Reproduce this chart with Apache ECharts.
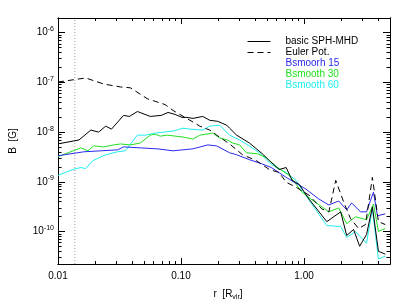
<!DOCTYPE html>
<html>
<head>
<meta charset="utf-8">
<script src="https://cdn.jsdelivr.net/npm/echarts@6/dist/echarts.min.js"></script>
<style>html,body{margin:0;padding:0;background:#fff;}#c{width:407px;height:306px;}</style>
</head>
<body>
<div id="c"></div>
<script>
// ---- data (r in R_vir, B in Gauss) ----
var rBasic = [0.0100,0.0148,0.0185,0.0214,0.0244,0.0272,0.0341,0.0381,0.0442,0.0562,0.0690,0.0785,0.0895,0.1019,0.1117,0.1250,0.1503,0.1714,0.1987,0.2350,0.2483,0.2831,0.3597,0.4582,0.5224,0.6281,0.7161,0.7998,0.9120,1.097,1.532,1.987,2.223,2.529,2.831,3.222,3.597,4.027,4.582];
var bBasic = [5.8e-9,6.95e-9,1.10e-8,1.00e-8,1.32e-8,1.15e-8,2.17e-8,2.07e-8,2.6e-8,2.07e-8,2.17e-8,2.49e-8,2.27e-8,1.98e-8,1.98e-8,1.89e-8,2.07e-8,1.73e-8,1.65e-8,1.38e-8,1.20e-8,8.7e-9,6.05e-9,3.67e-9,2.67e-9,1.77e-9,1.94e-9,1.07e-9,8.9e-10,4.5e-10,1.58e-10,2.49e-10,8.3e-11,1.10e-10,5.05e-11,8.7e-11,3.13e-10,4.0e-11,3.5e-11];

var rEuler = [0.0100,0.0168,0.0235,0.0322,0.0388,0.0532,0.0743,0.0861,0.1183,0.1422,0.1714,0.1950,0.2483,0.3162,0.4102,0.5224,0.6281,0.7161,0.861,1.097,1.396,1.592,1.811,2.10,2.39,2.777,3.162,3.597,4.027,4.582];
var bEuler = [1.02e-7,1.23e-7,9.3e-8,8.1e-8,7.8e-8,4.7e-8,3.58e-8,2.73e-8,1.73e-8,1.32e-8,1.10e-8,8.7e-9,5.78e-9,3.51e-9,2.67e-9,1.77e-9,1.54e-9,9.8e-10,7.8e-10,5.4e-10,2.85e-10,2.49e-10,1.07e-9,3.93e-10,1.81e-10,1.15e-10,1.38e-10,1.23e-9,1.58e-10,1.38e-10];

var rB15 = [0.0100,0.0162,0.0305,0.0341,0.0467,0.0640,0.0861,0.1250,0.1652,0.1950,0.2483,0.2831,0.3597,0.4498,0.5420,0.7161,1.038,1.321,1.592,1.914,2.223,2.438,2.884,3.222,3.670,3.953,4.582];
var bB15 = [3.35e-9,4.02e-9,4.40e-9,5.05e-9,4.82e-9,4.61e-9,4.21e-9,4.61e-9,5.53e-9,5.28e-9,3.84e-9,3.51e-9,2.79e-9,2.32e-9,1.94e-9,1.23e-9,7.1e-10,4.5e-10,3.42e-10,4.11e-10,2.73e-10,3.75e-10,2.49e-10,2.49e-10,6.2e-10,2.07e-10,2.27e-10];

var rB30 = [0.0100,0.0153,0.0175,0.0195,0.0235,0.0283,0.0322,0.0388,0.0467,0.0562,0.0617,0.0677,0.0771,0.1038,0.1250,0.1422,0.1811,0.2065,0.2393,0.2625,0.2992,0.3407,0.4178,0.4943,0.5943,0.7568,0.9638,1.138,1.592,1.914,2.223,2.624,3.222,3.670,4.027,4.582];
var bB30 = [3.20e-9,4.82e-9,4.21e-9,5.28e-9,5.05e-9,5.53e-9,5.78e-9,5.53e-9,6.05e-9,8.7e-9,9.1e-9,8.3e-9,8.7e-9,7.96e-9,7.26e-9,8.7e-9,9.55e-9,7.6e-9,6.95e-9,6.05e-9,5.53e-9,3.84e-9,3.67e-9,3.06e-9,2.03e-9,1.35e-9,6.2e-10,4.5e-10,2.49e-10,2.99e-10,1.44e-10,1.98e-10,1.73e-10,3.58e-10,1.00e-10,1.15e-10];

var rB60 = [0.0100,0.0132,0.0153,0.0168,0.0192,0.0244,0.0305,0.0353,0.0442,0.0513,0.0617,0.0861,0.1038,0.1183,0.1503,0.1714,0.2065,0.2483,0.2992,0.3597,0.4335,0.5224,0.5943,0.7161,0.861,1.097,1.532,1.987,2.223,2.624,3.222,3.597,4.027,4.582];
var bB60 = [1.35e-9,1.77e-9,1.94e-9,1.85e-9,2.67e-9,3.51e-9,4.02e-9,4.21e-9,8.7e-9,8.7e-9,9.55e-9,1.05e-8,1.20e-8,1.15e-8,1.10e-8,1.32e-8,1.38e-8,8.7e-9,6.95e-9,5.28e-9,3.84e-9,2.43e-9,1.94e-9,1.54e-9,1.07e-9,4.3e-10,1.32e-10,1.26e-10,7.6e-11,1.00e-10,5.8e-11,2.85e-10,2.79e-11,3.2e-11];

var seriesNames = ['basic SPH-MHD','Euler Pot.','Bsmoorh 15','Bsmooth 30','Bsmooth 60'];
var seriesColors = ['#000000','#000000','#2a2aee','#22e022','#20eeee'];
var rVirLine = 0.0137;

var xMajorTicks = [0.01, 0.1, 1];
var yMajorTicks = [1e-10, 1e-9, 1e-8, 1e-7, 1e-6];
var xRange = [0.01, 5];
var yRange = [2.22e-11, 1.98e-6];

function minors(decades) {
  var out = [];
  decades.forEach(function (d) { for (var m = 2; m <= 9; m++) out.push(+(m * d).toPrecision(3)); });
  return out;
}
var xMinorTicks = minors([0.01, 0.1, 1]);
var yMinorTicks = minors([1e-11, 1e-10, 1e-9, 1e-8, 1e-7, 1e-6]);

function zip(r, b) { return r.map(function (v, i) { return [v, b[i]]; }); }

var chart = echarts.init(document.getElementById('c'), null, {renderer: 'canvas'});
var font = 'Liberation Sans, Arial, sans-serif';

function xAx(pos, ticks, len, labels) {
  return {
    type: 'log', logBase: 10, min: xRange[0], max: xRange[1], position: pos,
    axisLine: {show: true, lineStyle: {color: '#000', width: 1}},
    axisTick: {show: true, inside: true, length: len, customValues: ticks, lineStyle: {color: '#000', width: 1}},
    axisLabel: labels ? {show: true, customValues: xMajorTicks, margin: 7, color: '#000', fontSize: 10, fontFamily: font,
      formatter: function (v) { return (+v).toFixed(2); }} : {show: false},
    splitLine: {show: false},
    name: labels ? '{a|r  [R}{s|vir}{a|]}' : '',
    nameLocation: 'middle', nameGap: 24,
    nameTextStyle: {padding: [0, 0, 0, 8], rich: {a: {fontSize: 10, fontFamily: font, color: '#000'}, s: {fontSize: 7, fontFamily: font, color: '#000', padding: [6, 0, 0, 0]}}}
  };
}
function yAx(pos, ticks, len, labels) {
  return {
    type: 'log', logBase: 10, min: yRange[0], max: yRange[1], position: pos,
    axisLine: {show: true, lineStyle: {color: '#000', width: 1}},
    axisTick: {show: true, inside: true, length: len, customValues: ticks, lineStyle: {color: '#000', width: 1}},
    axisLabel: labels ? {show: true, customValues: yMajorTicks, margin: 4, color: '#000', fontFamily: font,
      formatter: function (v) { return '{b|10}{s|' + Math.round(Math.log10(v)) + '}'; },
      rich: {b: {fontSize: 10, fontFamily: font, color: '#000'}, s: {fontSize: 7, fontFamily: font, color: '#000', padding: [0, 0, 7, 0]}}} : {show: false},
    splitLine: {show: false},
    name: labels ? 'B  [G]' : '',
    nameLocation: 'middle', nameGap: 40, nameRotate: 90,
    nameTextStyle: {fontSize: 10, fontFamily: font, color: '#000'}
  };
}

var series = [
  {name: seriesNames[0], data: zip(rBasic, bBasic), lineStyle: {color: seriesColors[0], width: 1}},
  {name: seriesNames[1], data: zip(rEuler, bEuler), lineStyle: {color: seriesColors[1], width: 1, type: [6, 4]}},
  {name: seriesNames[2], data: zip(rB15, bB15), lineStyle: {color: seriesColors[2], width: 1}},
  {name: seriesNames[3], data: zip(rB30, bB30), lineStyle: {color: seriesColors[3], width: 1}},
  {name: seriesNames[4], data: zip(rB60, bB60), lineStyle: {color: seriesColors[4], width: 1}}
].map(function (s, i) {
  s.type = 'line'; s.symbol = 'none'; s.showSymbol = false; s.animation = false;
  s.itemStyle = {color: seriesColors[i]};
  s.xAxisIndex = 0; s.yAxisIndex = 0; s.z = 10 - i;
  return s;
});
series.push({
  name: 'rvir-marker', type: 'line', symbol: 'none', showSymbol: false, animation: false, silent: true,
  xAxisIndex: 0, yAxisIndex: 0, z: 1,
  data: [[rVirLine, yRange[0]], [rVirLine, yRange[1]]],
  lineStyle: {color: '#a0a0a0', type: [1, 2], width: 1},
  itemStyle: {color: '#a0a0a0'}
});

chart.setOption({
  backgroundColor: '#fff',
  animation: false,
  grid: {left: 57, top: 18, right: 17, bottom: 38, containLabel: false},
  xAxis: [
    xAx('bottom', xMajorTicks, 6, true),
    xAx('bottom', xMinorTicks, 3, false),
    xAx('top', xMajorTicks, 6, false),
    xAx('top', xMinorTicks, 3, false)
  ],
  yAxis: [
    yAx('left', yMajorTicks, 7, true),
    yAx('left', yMinorTicks, 3.5, false),
    yAx('right', yMajorTicks, 7, false),
    yAx('right', yMinorTicks, 3.5, false)
  ],
  legend: {
    orient: 'vertical', left: 242, top: 31, itemGap: 0, itemWidth: 23, itemHeight: 8,
    selectedMode: false,
    itemStyle: {opacity: 0},
    lineStyle: {width: 1},
    textStyle: {fontSize: 10, fontFamily: font, lineHeight: 11, color: '#000', padding: [0, 0, 0, 10]},
    data: seriesNames.map(function (n, i) {
      return i < 2 ? {name: n, textStyle: {color: '#000'}}
                   : {name: n, icon: 'none', textStyle: {color: seriesColors[i]}};
    })
  },
  series: series
});
</script>
</body>
</html>
